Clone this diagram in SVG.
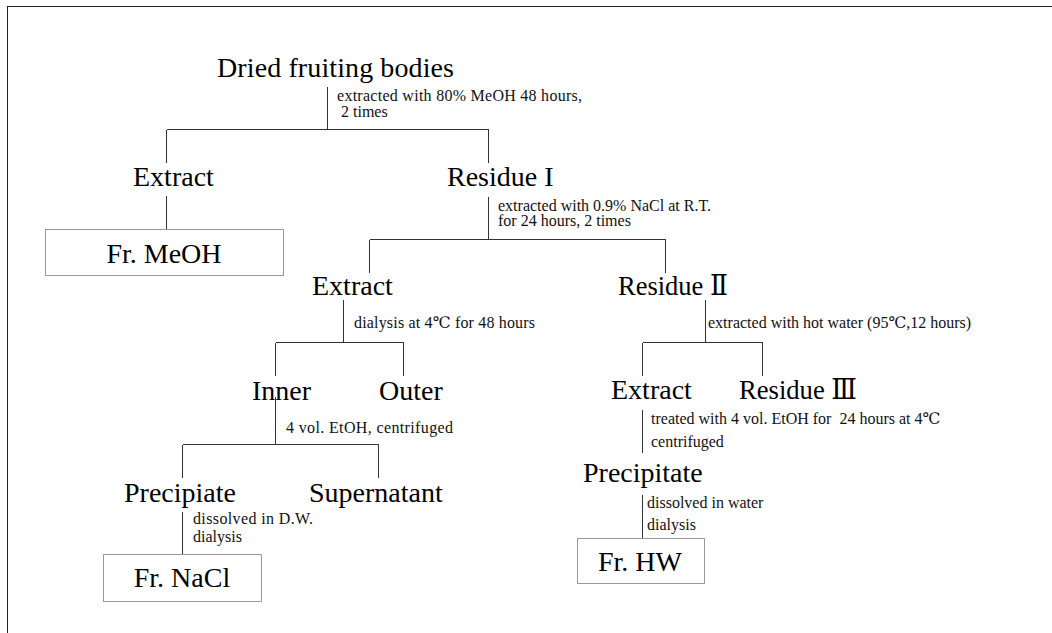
<svg xmlns="http://www.w3.org/2000/svg" width="1052" height="633" viewBox="0 0 1052 633">
<style>
  .big { font-family: 'Liberation Serif', 'Times New Roman', 'DejaVu Serif', 'Noto Sans CJK JP', serif; font-size: 28px; fill: #000; }
  .small { font-family: 'Liberation Serif', 'Times New Roman', 'DejaVu Serif', 'Noto Sans CJK JP', serif; font-size: 16px; fill: #111; white-space: pre; }
  .conn line { stroke: #333; stroke-width: 1; shape-rendering: crispEdges; }
  .box { fill: #fff; stroke: #999; stroke-width: 1; shape-rendering: crispEdges; }
</style>
<rect x="0" y="0" width="1052" height="633" fill="#fff"/>
<rect x="7.5" y="6.5" width="1100" height="700" fill="none" stroke="#222" stroke-width="1" shape-rendering="crispEdges"/>

<g id="connectors" class="conn">
  <line x1="327.5" y1="87" x2="327.5" y2="129.5"/>
  <line x1="166.5" y1="129.5" x2="488.5" y2="129.5"/>
  <line x1="166.5" y1="129.5" x2="166.5" y2="163"/>
  <line x1="488.5" y1="129.5" x2="488.5" y2="163"/>
  <line x1="166.5" y1="196" x2="166.5" y2="229"/>
  <line x1="488.5" y1="197" x2="488.5" y2="239.5"/>
  <line x1="369.5" y1="239.5" x2="665.5" y2="239.5"/>
  <line x1="369.5" y1="239.5" x2="369.5" y2="273"/>
  <line x1="665.5" y1="239.5" x2="665.5" y2="273"/>
  <line x1="343.5" y1="300" x2="343.5" y2="342.5"/>
  <line x1="275.5" y1="342.5" x2="403.5" y2="342.5"/>
  <line x1="275.5" y1="342.5" x2="275.5" y2="376"/>
  <line x1="403.5" y1="342.5" x2="403.5" y2="376"/>
  <line x1="705.5" y1="300" x2="705.5" y2="342.5"/>
  <line x1="642.5" y1="342.5" x2="762.5" y2="342.5"/>
  <line x1="642.5" y1="342.5" x2="642.5" y2="376"/>
  <line x1="762.5" y1="342.5" x2="762.5" y2="376"/>
  <line x1="275.5" y1="397" x2="275.5" y2="444.5"/>
  <line x1="182.5" y1="444.5" x2="378.5" y2="444.5"/>
  <line x1="182.5" y1="444.5" x2="182.5" y2="478"/>
  <line x1="378.5" y1="444.5" x2="378.5" y2="478"/>
  <line x1="642.5" y1="410" x2="642.5" y2="453"/>
  <line x1="182.5" y1="512" x2="182.5" y2="554"/>
  <line x1="642.5" y1="495" x2="642.5" y2="538"/>
</g>

<g id="labels">
  <text class="small" x="337" y="101" textLength="245" lengthAdjust="spacing">extracted with 80% MeOH 48 hours,</text>
  <text class="small" x="337" y="117"> 2 times</text>
  <text class="small" x="498" y="211">extracted with 0.9% NaCl at R.T.</text>
  <text class="small" x="498" y="226">for 24 hours, 2 times</text>
  <text class="small" x="354" y="328" textLength="181" lengthAdjust="spacing">dialysis at 4℃ for 48 hours</text>
  <text class="small" x="708" y="328">extracted with hot water (95℃,12 hours)</text>
  <text class="small" x="286" y="433" textLength="167" lengthAdjust="spacing">4 vol. EtOH, centrifuged</text>
  <text class="small" x="651" y="424">treated with 4 vol. EtOH for  24 hours at 4℃</text>
  <text class="small" x="651" y="447">centrifuged</text>
  <text class="small" x="193" y="524" textLength="120" lengthAdjust="spacing">dissolved in D.W.</text>
  <text class="small" x="193" y="542">dialysis</text>
  <text class="small" x="647" y="508">dissolved in water</text>
  <text class="small" x="647" y="530">dialysis</text>
</g>

<g id="node-dried"><text class="big" x="217" y="77" textLength="237" lengthAdjust="spacing">Dried fruiting bodies</text></g>
<g id="node-extract1"><text class="big" x="133" y="186">Extract</text></g>
<g id="node-residue1"><text class="big" x="447" y="186">Residue I</text></g>
<g id="node-frmeoh">
  <rect class="box" x="45.5" y="229.5" width="238" height="46"/>
  <text class="big" x="164" y="263" text-anchor="middle">Fr. MeOH</text>
</g>
<g id="node-extract2"><text class="big" x="312" y="295">Extract</text></g>
<g id="node-residue2"><text class="big" x="618" y="295" textLength="110" lengthAdjust="spacingAndGlyphs">Residue Ⅱ</text></g>
<g id="node-inner"><text class="big" x="252" y="400">Inner</text></g>
<g id="node-outer"><text class="big" x="379" y="400">Outer</text></g>
<g id="node-extract3"><text class="big" x="611" y="399">Extract</text></g>
<g id="node-residue3"><text class="big" x="739" y="399" textLength="118" lengthAdjust="spacingAndGlyphs">Residue Ⅲ</text></g>
<g id="node-precipitate-r"><text class="big" x="583" y="482">Precipitate</text></g>
<g id="node-precipiate-l"><text class="big" x="124" y="502">Precipiate</text></g>
<g id="node-supernatant"><text class="big" x="309" y="502">Supernatant</text></g>
<g id="node-frnacl">
  <rect class="box" x="103.5" y="554.5" width="158" height="47"/>
  <text class="big" x="182" y="587" text-anchor="middle">Fr. NaCl</text>
</g>
<g id="node-frhw">
  <rect class="box" x="577.5" y="538.5" width="127" height="45"/>
  <text class="big" x="640" y="571" text-anchor="middle">Fr. HW</text>
</g>
</svg>
